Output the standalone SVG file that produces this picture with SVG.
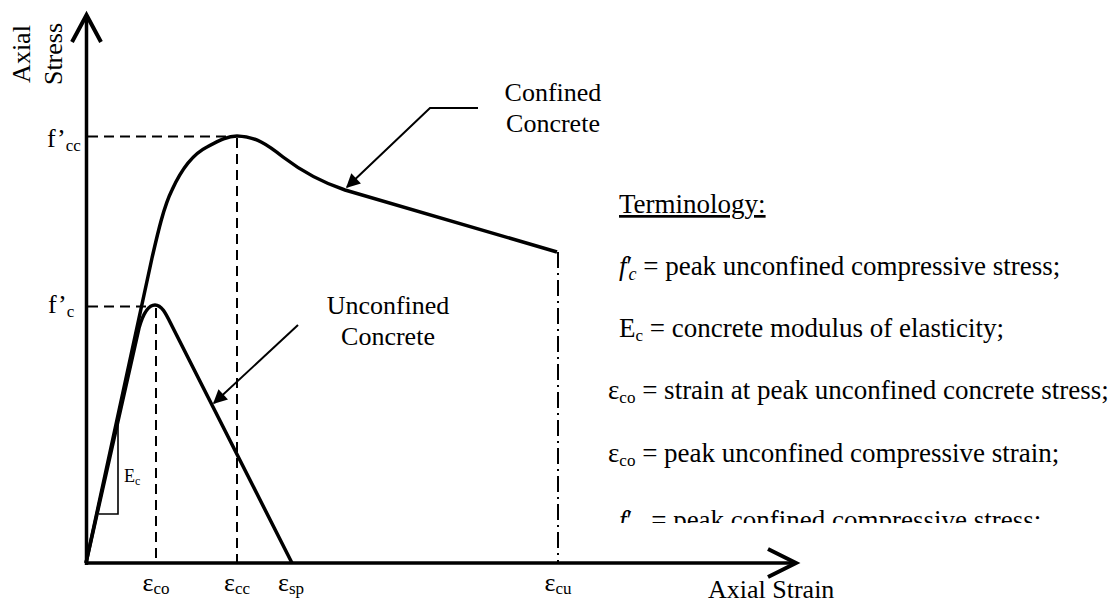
<svg xmlns="http://www.w3.org/2000/svg" width="1115" height="603" viewBox="0 0 1115 603">
<style>
text{font-family:"Liberation Serif","Times New Roman",serif;fill:#000}
.lbl{font-size:26px}
.term{font-size:27px}
.axis{fill:none;stroke:#000;stroke-width:3.5;stroke-linecap:butt}
.ah{fill:none;stroke:#000;stroke-width:4;stroke-linejoin:miter}
.curve{fill:none;stroke:#000;stroke-width:3.5;stroke-linejoin:round}
.dash{fill:none;stroke:#000;stroke-width:2;stroke-dasharray:10 6}
.dashdot{fill:none;stroke:#000;stroke-width:2;stroke-dasharray:16 5 2 5}
.thin{fill:none;stroke:#000;stroke-width:1.6}
.lead{fill:none;stroke:#000;stroke-width:2}
</style>
<defs>
<marker id="arr" viewBox="0 0 10 10" refX="9" refY="5" markerWidth="8" markerHeight="7" markerUnits="strokeWidth" orient="auto">
<path d="M0,0 L10,5 L0,10 z" fill="#000"/>
</marker>
<clipPath id="termclip"><rect x="600" y="180" width="515" height="343"/></clipPath>
</defs>

<g id="axes">
<line class="axis" x1="86.5" y1="17" x2="86.5" y2="565"/>
<polyline class="ah" points="72,42 86.5,15 101,42"/>
<line class="axis" x1="85" y1="563" x2="794" y2="563"/>
<polyline class="ah" points="768,549 796,563 768,577"/>
<text class="lbl" transform="translate(30,54) rotate(-90)" text-anchor="middle">Axial</text>
<text class="lbl" transform="translate(62,54) rotate(-90)" text-anchor="middle">Stress</text>
<text class="lbl" x="708" y="598">Axial Strain</text>
</g>

<g id="guides">
<line class="dash" x1="88" y1="136.5" x2="236" y2="136.5"/>
<line class="dash" x1="88" y1="306.5" x2="152" y2="306.5"/>
<line class="dash" x1="156" y1="308" x2="156" y2="562"/>
<line class="dash" x1="237" y1="138" x2="237" y2="562"/>
<line class="dashdot" x1="558" y1="252" x2="558" y2="562"/>
</g>

<g id="confined-curve">
<path class="curve" d="M86,563 L152,258 C158,232 164,206 172,190 C182,168 193,154 207,147 C220,140 228,136 237,136 C255,136 268,145 283,157 C300,170 318,181 345,190 L557,252"/>
</g>

<g id="unconfined-curve">
<path class="curve" d="M86,563 L139,328 C143,314 148,305 155,305 C162,305 166,314 172,326 L292,563"/>
</g>

<g id="ec-triangle">
<polyline class="thin" points="118,422 118,514 99,514"/>
<text x="124" y="482" font-size="18">E<tspan font-size="12" dy="3">c</tspan></text>
</g>

<g id="stress-labels">
<text class="lbl" x="47" y="147">f’<tspan font-size="17" dy="4">cc</tspan></text>
<text class="lbl" x="48" y="313">f’<tspan font-size="17" dy="4">c</tspan></text>
</g>

<g id="strain-labels">
<text class="lbl" x="156" y="591" text-anchor="middle">ε<tspan font-size="17" dy="3">co</tspan></text>
<text class="lbl" x="237" y="591" text-anchor="middle">ε<tspan font-size="17" dy="3">cc</tspan></text>
<text class="lbl" x="291" y="591" text-anchor="middle">ε<tspan font-size="17" dy="3">sp</tspan></text>
<text class="lbl" x="558" y="591" text-anchor="middle">ε<tspan font-size="17" dy="3">cu</tspan></text>
</g>

<g id="confined-label">
<text class="lbl" x="553" y="101" text-anchor="middle">Confined</text>
<text class="lbl" x="553" y="132" text-anchor="middle">Concrete</text>
</g>

<g id="unconfined-label">
<text class="lbl" x="388" y="314" text-anchor="middle" font-size="25">Unconfined</text>
<text class="lbl" x="388" y="345" text-anchor="middle" font-size="25">Concrete</text>
</g>

<g id="connectors">
<polyline class="lead" points="478,108 430,108 347,187" marker-end="url(#arr)"/>
<line class="lead" x1="298" y1="325" x2="214" y2="403" marker-end="url(#arr)"/>
</g>

<g id="terminology" clip-path="url(#termclip)">
<text class="term" x="619" y="213" text-decoration="underline">Terminology:</text>
<text class="term" x="619" y="275"><tspan font-style="italic">f</tspan><tspan>′</tspan><tspan font-style="italic" font-size="18" dy="5" dx="-4">c</tspan><tspan dy="-5"> = peak unconfined compressive stress;</tspan></text>
<text class="term" x="619" y="337">E<tspan font-size="17" dy="4">c</tspan><tspan dy="-4"> = concrete modulus of elasticity;</tspan></text>
<text class="term" x="608" y="399">ε<tspan font-size="17" dy="4">co</tspan><tspan dy="-4"> = strain at peak unconfined concrete stress;</tspan></text>
<text class="term" x="608" y="462">ε<tspan font-size="17" dy="4">co</tspan><tspan dy="-4"> = peak unconfined compressive strain;</tspan></text>
<text class="term" x="619" y="529"><tspan font-style="italic">f</tspan><tspan>′</tspan><tspan font-style="italic" font-size="18" dy="5" dx="-4">cc</tspan><tspan dy="-5"> = peak confined compressive stress;</tspan></text>
</g>
</svg>
